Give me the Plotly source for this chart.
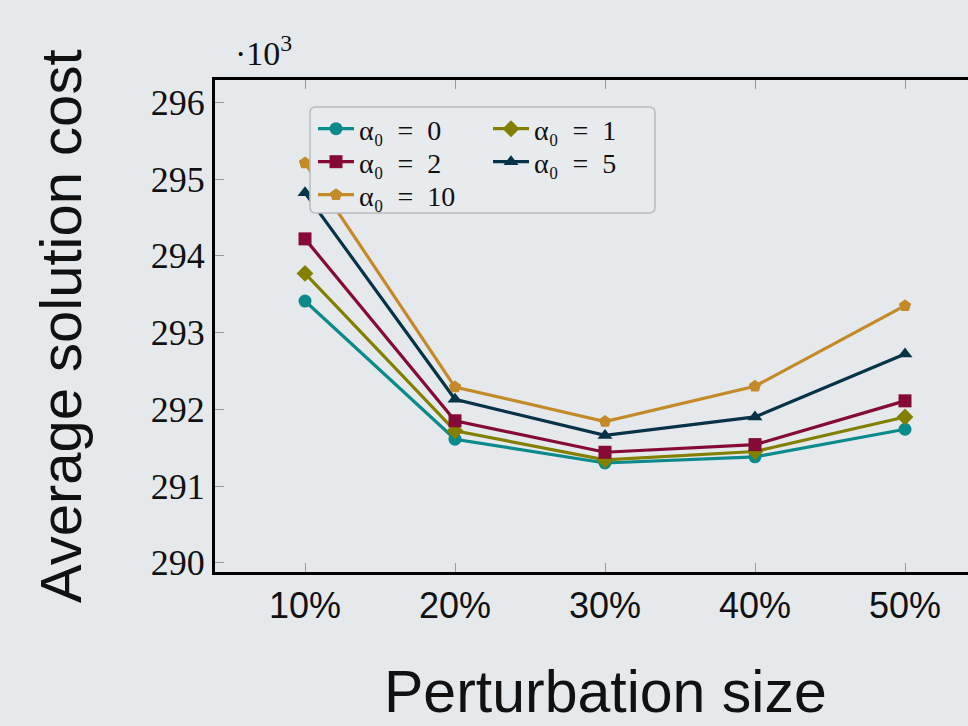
import plotly.graph_objects as go

# Data (values in thousands)
x_pct = [10, 20, 30, 40, 50]
x_labels = ["10%", "20%", "30%", "40%", "50%"]
a0 = [293.41, 291.61, 291.30, 291.38, 291.74]
a1 = [293.77, 291.72, 291.34, 291.45, 291.90]
a2 = [294.22, 291.85, 291.44, 291.54, 292.11]
a5 = [294.82, 292.13, 291.66, 291.90, 292.72]
a10 = [295.21, 292.29, 291.84, 292.30, 293.35]
y_ticks = [290, 291, 292, 293, 294, 295, 296]
alpha_labels = ["0", "1", "2", "5", "10"]

colors = ["#0a8a8a", "#838000", "#850a35", "#063347", "#c48a28"]
symbols = ["circle", "diamond", "square", "triangle-up", "pentagon"]
values = [a0, a1, a2, a5, a10]
# legend cell (column, row) for each series, like the reference's 2-column legend
cells = [(0, 0), (1, 0), (0, 1), (1, 1), (0, 2)]

BG = "#e5e9ec"
SERIF = "Liberation Serif"
SANS = "Liberation Sans"

# plot area in pixels (for placing legend pieces)
L, T, B, W = 215, 80, 572, 753
def px(xp): return (xp - L) / W
def py(yp): return (B - yp) / (B - T)

col_left = [313, 488]
row_center = [128, 161, 194]

fig = go.Figure()
legends = {}
for i, (lab, ys, col, sym, cell) in enumerate(zip(alpha_labels, values, colors, symbols, cells)):
    key = "legend" if i == 0 else f"legend{i+1}"
    fig.add_trace(go.Scatter(
        x=x_pct, y=ys, name=f"α₀\u2002=\u2002{lab}", mode="lines+markers",
        line=dict(color=col, width=3.2),
        marker=dict(symbol=sym, size=13, color=col),
        legend=key,
    ))
    legends[key] = dict(
        x=px(col_left[cell[0]]), y=py(row_center[cell[1]] - 24),
        orientation="v", xanchor="left", yanchor="top",
        bgcolor="rgba(0,0,0,0)", borderwidth=0,
        font=dict(family=SERIF, size=28, color="#111"),
        itemwidth=36, tracegroupgap=0,
    )

# rounded legend box
x0, x1, y0, y1, r = px(310), px(655), py(213), py(107), 6
rx, ry = r / W, r / (B - T)
box = (f"M {x0+rx},{y0} L {x1-rx},{y0} Q {x1},{y0} {x1},{y0+ry} "
       f"L {x1},{y1-ry} Q {x1},{y1} {x1-rx},{y1} L {x0+rx},{y1} "
       f"Q {x0},{y1} {x0},{y1-ry} L {x0},{y0+ry} Q {x0},{y0} {x0+rx},{y0} Z")

fig.update_layout(
    width=968, height=726,
    paper_bgcolor=BG, plot_bgcolor=BG,
    margin=dict(l=L, r=0, t=T, b=726 - B),
    showlegend=True,
    shapes=[dict(type="path", path=box, xref="paper", yref="paper",
                 fillcolor="#e8ebee", line=dict(color="#b8bbbe", width=1.5),
                 layer="above")],
    xaxis=dict(
        range=[4, 54.2], tickvals=x_pct, ticktext=x_labels,
        showgrid=False, zeroline=False,
        showline=True, linecolor="black", linewidth=3, mirror="ticks",
        ticks="inside", ticklen=9, tickwidth=1, tickcolor="#999",
        tickfont=dict(family=SANS, size=36, color="#111"),
    ),
    yaxis=dict(
        range=[289.88, 296.29], tickvals=y_ticks, ticktext=[str(v) for v in y_ticks],
        showgrid=False, zeroline=False,
        showline=True, linecolor="black", linewidth=3, mirror=False,
        ticks="inside", ticklen=9, tickwidth=1, tickcolor="#999",
        tickfont=dict(family=SERIF, size=36, color="#111"),
    ),
    annotations=[
        dict(text="Perturbation size", xref="x", yref="paper", x=30, y=0,
             xanchor="center", yanchor="middle", yshift=-120, showarrow=False,
             font=dict(family=SANS, size=59, color="#111")),
        dict(text="Average solution cost", xref="paper", yref="paper", x=0, y=0.5,
             xanchor="center", yanchor="middle", xshift=-155, textangle=-90,
             showarrow=False, font=dict(family=SANS, size=58, color="#111")),
        dict(text="·10<sup>3</sup>", xref="paper", yref="paper", x=0, y=1,
             xanchor="left", yanchor="bottom", xshift=18, yshift=6,
             showarrow=False, font=dict(family=SERIF, size=34, color="#111")),
    ],
)
fig.update_layout(**legends)

fig.write_html("out.html")
